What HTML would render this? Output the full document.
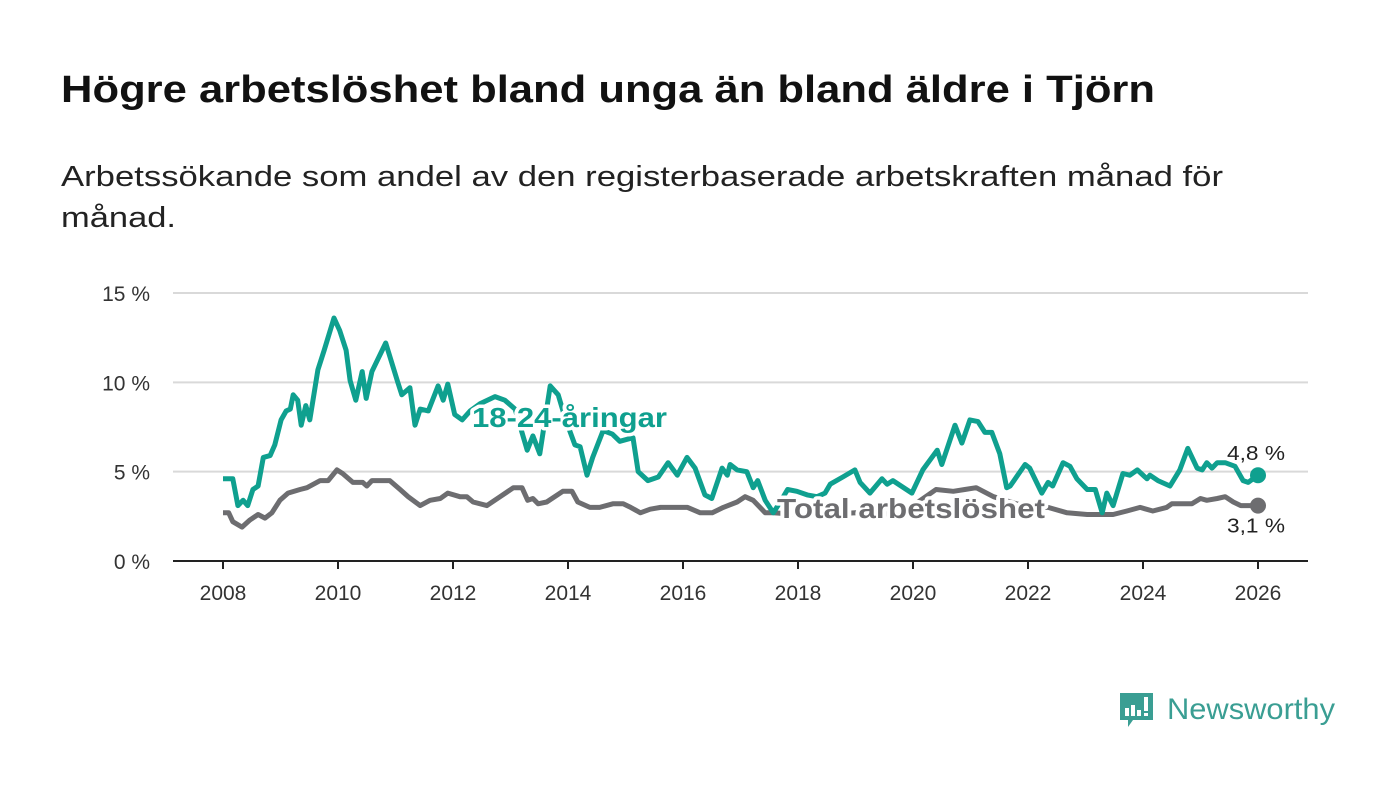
<!DOCTYPE html>
<html><head><meta charset="utf-8">
<style>
html,body{margin:0;padding:0;background:#fff;}
body{width:1400px;height:794px;overflow:hidden;font-family:"Liberation Sans",sans-serif;}
svg text{font-family:"Liberation Sans",sans-serif;}
</style></head>
<body>
<svg id="chart" width="1400" height="794" viewBox="0 0 1400 794">
  <text x="61" y="102" font-size="38" font-weight="bold" fill="#111" textLength="1094" lengthAdjust="spacingAndGlyphs">Högre arbetslöshet bland unga än bland äldre i Tjörn</text>
  <text x="61" y="186" font-size="29" fill="#222" textLength="1162" lengthAdjust="spacingAndGlyphs">Arbetssökande som andel av den registerbaserade arbetskraften månad för</text>
  <text x="61" y="227" font-size="29" fill="#222" textLength="115" lengthAdjust="spacingAndGlyphs">månad.</text>
  <g id="grid"></g>
  <g id="xaxis"></g>
  <g id="series"></g>
  <g id="labels"></g>
  <g>
    <path d="M1120 693 h33 v27 h-20 l-5 7 v-7 h-8 z" fill="#3a9e93"/>
    <rect x="1125" y="708" width="4" height="8" fill="#fff"/>
    <rect x="1131" y="705" width="4" height="11" fill="#fff"/>
    <rect x="1137" y="710" width="4" height="6" fill="#fff"/>
    <rect x="1144" y="697" width="4" height="14" fill="#fff"/>
    <rect x="1144" y="713" width="4" height="3" fill="#fff"/>
    <text x="1167" y="719" font-size="30" fill="#3a9e93" textLength="168" lengthAdjust="spacingAndGlyphs">Newsworthy</text>
  </g>
</svg>
<script>
const yTicks = [0, 5, 10, 15];
const yTickLabels = ["0 %", "5 %", "10 %", "15 %"];
const xTicks = [2008, 2010, 2012, 2014, 2016, 2018, 2020, 2022, 2024, 2026];
const youthYears = [2008.00,2008.17,2008.26,2008.35,2008.43,2008.52,2008.61,2008.70,2008.82,2008.90,2009.01,2009.10,2009.17,2009.22,2009.30,2009.36,2009.44,2009.51,2009.65,2009.76,2009.93,2010.03,2010.14,2010.21,2010.31,2010.42,2010.49,2010.59,2010.83,2011.04,2011.11,2011.25,2011.34,2011.43,2011.57,2011.74,2011.83,2011.91,2012.03,2012.16,2012.30,2012.47,2012.73,2012.90,2013.08,2013.29,2013.39,2013.51,2013.69,2013.83,2013.95,2014.12,2014.21,2014.33,2014.43,2014.61,2014.77,2014.90,2015.13,2015.22,2015.39,2015.57,2015.74,2015.90,2016.07,2016.21,2016.38,2016.50,2016.68,2016.77,2016.82,2016.94,2017.11,2017.22,2017.30,2017.43,2017.57,2017.69,2017.82,2017.98,2018.16,2018.33,2018.47,2018.56,2018.78,2018.99,2019.08,2019.25,2019.46,2019.55,2019.65,2019.98,2020.17,2020.42,2020.50,2020.73,2020.85,2020.99,2021.13,2021.25,2021.37,2021.51,2021.63,2021.69,2021.95,2022.03,2022.24,2022.35,2022.43,2022.61,2022.73,2022.85,2023.03,2023.17,2023.29,2023.37,2023.48,2023.65,2023.77,2023.90,2024.07,2024.12,2024.26,2024.47,2024.64,2024.78,2024.94,2025.03,2025.11,2025.20,2025.29,2025.43,2025.60,2025.74,2025.83,2026.00];
const youthValues = [4.6,4.6,3.1,3.4,3.1,4.0,4.2,5.8,5.9,6.5,7.9,8.4,8.5,9.3,9.0,7.6,8.7,7.9,10.7,11.8,13.6,12.9,11.8,10.1,9.0,10.6,9.1,10.6,12.2,10.0,9.3,9.7,7.6,8.5,8.4,9.8,9.0,9.9,8.2,7.9,8.4,8.8,9.2,9.0,8.5,6.2,7.0,6.0,9.8,9.3,8.0,6.5,6.4,4.8,5.8,7.3,7.1,6.7,6.9,5.0,4.5,4.7,5.5,4.8,5.8,5.2,3.7,3.5,5.2,4.8,5.4,5.1,5.0,4.1,4.5,3.4,2.7,3.3,4.0,3.9,3.7,3.6,3.8,4.3,4.7,5.1,4.4,3.8,4.6,4.3,4.5,3.8,5.1,6.2,5.4,7.6,6.6,7.9,7.8,7.2,7.2,6.0,4.1,4.2,5.4,5.2,3.8,4.4,4.2,5.5,5.3,4.6,4.0,4.0,2.7,3.8,3.1,4.9,4.8,5.1,4.6,4.8,4.5,4.2,5.1,6.3,5.2,5.1,5.5,5.2,5.5,5.5,5.3,4.5,4.4,4.8];
const totalYears = [2008.00,2008.10,2008.17,2008.33,2008.47,2008.61,2008.73,2008.85,2008.99,2009.13,2009.34,2009.46,2009.69,2009.83,2009.98,2010.08,2010.26,2010.43,2010.50,2010.59,2010.90,2011.08,2011.22,2011.43,2011.60,2011.78,2011.91,2012.12,2012.24,2012.35,2012.59,2012.82,2013.05,2013.20,2013.30,2013.39,2013.48,2013.63,2013.91,2014.07,2014.17,2014.38,2014.55,2014.78,2014.96,2015.09,2015.26,2015.43,2015.61,2016.08,2016.30,2016.51,2016.70,2016.94,2017.08,2017.22,2017.43,2017.57,2018.0,2018.5,2019.0,2019.5,2020.0,2020.4,2020.7,2020.9,2021.1,2021.4,2021.8,2022.1,2022.35,2022.68,2023.03,2023.26,2023.48,2023.72,2023.95,2024.17,2024.41,2024.50,2024.85,2025.00,2025.11,2025.29,2025.43,2025.57,2025.70,2026.00];
const totalValues = [2.7,2.7,2.2,1.9,2.3,2.6,2.4,2.7,3.4,3.8,4.0,4.1,4.5,4.5,5.1,4.9,4.4,4.4,4.2,4.5,4.5,4.0,3.6,3.1,3.4,3.5,3.8,3.6,3.6,3.3,3.1,3.6,4.1,4.1,3.4,3.5,3.2,3.3,3.9,3.9,3.3,3.0,3.0,3.2,3.2,3.0,2.7,2.9,3.0,3.0,2.7,2.7,3.0,3.3,3.6,3.4,2.7,2.7,2.6,2.6,2.7,2.6,3.1,4.0,3.9,4.0,4.1,3.6,3.2,3.0,3.0,2.7,2.6,2.6,2.6,2.8,3.0,2.8,3.0,3.2,3.2,3.5,3.4,3.5,3.6,3.3,3.1,3.1];

const NS = "http://www.w3.org/2000/svg";
const X0 = 173, X1 = 1308;
function xs(yr){ return 223 + (yr - 2008) * (1258 - 223) / 18; }
function ys(v){ return 561 - v * (561 - 293) / 15; }
function mk(tag, attrs, parent){ const e = document.createElementNS(NS, tag); for (const k in attrs) e.setAttribute(k, attrs[k]); parent.appendChild(e); return e; }

const grid = document.getElementById('grid');
yTicks.forEach((t, i) => {
  const l = mk('line', {x1: X0, x2: X1, y1: ys(t), y2: ys(t), stroke: t === 0 ? '#222' : '#d9d9d9', 'stroke-width': 2}, grid);
  
  
  const tx = mk('text', {x: 150, y: ys(t) + 8, 'font-size': 21, fill: '#333', 'text-anchor': 'end'}, grid);
  tx.textContent = yTickLabels[i];
  
  
});
const xa = document.getElementById('xaxis');
xTicks.forEach(t => {
  const l = mk('line', {x1: xs(t), x2: xs(t), y1: 561, y2: 569, stroke: '#222', 'stroke-width': 2}, xa);
  
  
  const tx = mk('text', {x: xs(t), y: 600, 'font-size': 21, fill: '#333', 'text-anchor': 'middle'}, xa);
  tx.textContent = String(t);
  
  
});

const ser = document.getElementById('series');
function drawLine(years, vals, color, name){
  const d = years.map((y, i) => (i ? 'L' : 'M') + xs(y).toFixed(1) + ' ' + ys(vals[i]).toFixed(1)).join(' ');
  const p = mk('path', {d: d, fill: 'none', stroke: color, 'stroke-width': 5, 'stroke-linejoin': 'round'}, ser);
  
  
  const n = years.length - 1;
  const c = mk('circle', {cx: xs(years[n]), cy: ys(vals[n]), r: 8, fill: color}, ser);
  
  
}
drawLine(totalYears, totalValues, '#6d6d70', 'total');
drawLine(youthYears, youthValues, '#0fa08f', 'youth');

const lab = document.getElementById('labels');
function label(x, y, txt, color, size, weight, name, halo, len){
  const t = mk('text', {x: x, y: y, 'font-size': size, 'font-weight': weight, fill: color}, lab);
  if (len) { t.setAttribute('textLength', len); t.setAttribute('lengthAdjust', 'spacingAndGlyphs'); }
  if (halo) { t.setAttribute('stroke', '#fff'); t.setAttribute('stroke-width', 7); t.setAttribute('paint-order', 'stroke'); t.setAttribute('stroke-linejoin', 'round'); }
  t.textContent = txt;
  
  
}
label(472, 427, '18-24-åringar', '#0fa08f', 28, 'bold', 'youth-series-label', true, 195);
label(777, 518, 'Total arbetslöshet', '#6d6d70', 28, 'bold', 'total-series-label', true, 268);
const ny = youthValues.length - 1, nt = totalValues.length - 1;
label(1227, ys(youthValues[ny]) - 15, youthValues[ny].toFixed(1).replace('.', ',') + ' %', '#222', 20, 'normal', 'youth-end-value', false, 58);
label(1227, ys(totalValues[nt]) + 27, totalValues[nt].toFixed(1).replace('.', ',') + ' %', '#222', 20, 'normal', 'total-end-value', false, 58);
</script>
</body></html>
